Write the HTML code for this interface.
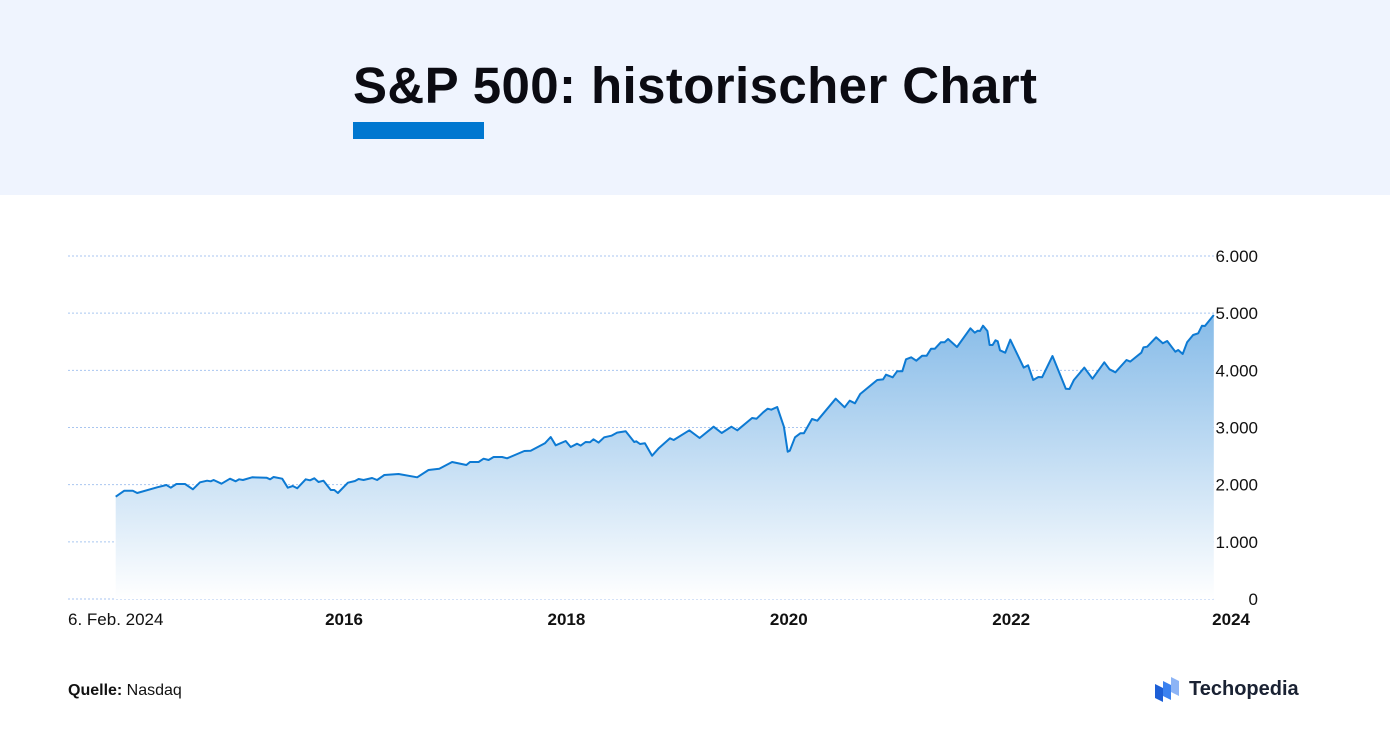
<!DOCTYPE html>
<html><head><meta charset="utf-8">
<style>
body{margin:0;width:1390px;height:730px;background:#fff;font-family:"Liberation Sans",sans-serif;overflow:hidden;position:relative}
#hdr{position:absolute;left:0;top:0;width:1390px;height:195px;background:#eff4fe}
#title{position:absolute;left:353px;top:56px;font-size:51px;font-weight:bold;color:#0b0b12;white-space:nowrap;letter-spacing:0.4px}
#bar{position:absolute;left:353px;top:122px;width:131px;height:17px;background:#0077d0}
#src{position:absolute;left:68px;top:682px;font-size:16px;color:#111}
#logo{position:absolute;left:1155px;top:676px;display:flex;align-items:center;font-size:20px;font-weight:bold;color:#1a2233}
</style></head><body>
<div id="hdr"></div>
<div id="title">S&amp;P 500: historischer Chart</div>
<div id="bar"></div>
<svg id="chart" width="1390" height="730" style="position:absolute;left:0;top:0">
<defs><linearGradient id="fillg" x1="0" y1="0" x2="0" y2="1">
<stop offset="0" stop-color="#86bbe8"/><stop offset="1" stop-color="#ffffff"/></linearGradient></defs>
<g id="grid"></g><g id="series"></g><g id="labels"></g>
</svg>
<div id="src"><b>Quelle:</b> Nasdaq</div>
<div id="logo">
<svg width="26" height="26" viewBox="0 0 26 26" style="margin-right:8px"><polygon points="0,8 8,12 8,26 0,22" fill="#1d5fd6"/><polygon points="8,5 16,9 16,24 8,20" fill="#3b82f0"/><polygon points="16,1 24,5 24,20 16,16" fill="#8db4f5"/></svg>Techopedia</div>
<script>
const years=[2013.947,2014.024,2014.101,2014.140,2014.320,2014.403,2014.442,2014.493,2014.570,2014.641,2014.705,2014.769,2014.801,2014.827,2014.898,2014.975,2015.026,2015.058,2015.091,2015.174,2015.303,2015.335,2015.367,2015.444,2015.495,2015.540,2015.579,2015.656,2015.694,2015.733,2015.771,2015.816,2015.881,2015.913,2015.945,2016.035,2016.099,2016.131,2016.176,2016.253,2016.298,2016.362,2016.491,2016.658,2016.760,2016.857,2016.972,2017.101,2017.133,2017.210,2017.255,2017.300,2017.345,2017.422,2017.467,2017.621,2017.679,2017.807,2017.859,2017.904,2017.994,2018.039,2018.096,2018.129,2018.173,2018.212,2018.244,2018.289,2018.340,2018.405,2018.456,2018.533,2018.610,2018.629,2018.662,2018.706,2018.771,2018.832,2018.932,2018.965,2019.105,2019.198,2019.324,2019.397,2019.484,2019.537,2019.670,2019.710,2019.770,2019.810,2019.843,2019.896,2019.956,2019.990,2020.009,2020.056,2020.103,2020.136,2020.209,2020.256,2020.422,2020.502,2020.548,2020.595,2020.642,2020.795,2020.848,2020.874,2020.934,2020.974,2021.021,2021.054,2021.101,2021.147,2021.200,2021.240,2021.280,2021.314,2021.367,2021.400,2021.433,2021.513,2021.633,2021.673,2021.699,2021.719,2021.746,2021.786,2021.806,2021.833,2021.859,2021.879,2021.899,2021.946,2021.992,2022.112,2022.152,2022.198,2022.245,2022.278,2022.371,2022.491,2022.524,2022.564,2022.657,2022.731,2022.837,2022.884,2022.937,2023.037,2023.070,2023.170,2023.190,2023.223,2023.303,2023.363,2023.403,2023.476,2023.502,2023.542,2023.582,2023.636,2023.682,2023.716,2023.742,2023.822];
const values=[1790,1895,1895,1854,1954,1994,1947,2011,2011,1919,2041,2069,2059,2082,2017,2104,2059,2093,2082,2128,2122,2093,2134,2104,1947,1976,1936,2093,2076,2111,2046,2069,1907,1907,1854,2035,2064,2099,2082,2117,2082,2169,2186,2128,2256,2279,2396,2344,2396,2396,2454,2431,2484,2484,2461,2589,2594,2723,2834,2688,2764,2659,2717,2683,2746,2741,2793,2735,2828,2857,2910,2933,2746,2758,2711,2723,2507,2640,2811,2781,2951,2816,3014,2904,3014,2951,3166,3154,3265,3329,3311,3358,3014,2577,2594,2828,2898,2898,3149,3119,3504,3353,3469,3423,3586,3831,3842,3924,3878,3983,3983,4193,4228,4169,4256,4256,4378,4378,4490,4490,4548,4408,4735,4658,4693,4688,4781,4688,4443,4443,4525,4507,4350,4309,4536,4047,4088,3831,3883,3878,4251,3679,3673,3831,4047,3854,4140,4018,3965,4181,4152,4309,4403,4414,4578,4473,4513,4326,4356,4286,4490,4618,4647,4781,4775,4968];
const yTicks=[0,1000,2000,3000,4000,5000,6000];
const yTickLabels=["0","1.000","2.000","3.000","4.000","5.000","6.000"];
const xTicks=[2016,2018,2020,2022];
const xTickLabels=["2016","2018","2020","2022"];
const NS="http://www.w3.org/2000/svg";
const X=yr=>344+(yr-2016)*111.2;
const Y=v=>599-v*0.05717;
function mk(tag,attrs,parent){const e=document.createElementNS(NS,tag);for(const k in attrs)e.setAttribute(k,attrs[k]);document.getElementById(parent).appendChild(e);return e;}
yTicks.forEach((t,i)=>{
 const l=mk('line',{x1:68,x2:1216,y1:Y(t),y2:Y(t),stroke:'#a9c6f0','stroke-width':1,'stroke-dasharray':'2,2'},'grid');
 
 
 const tx=mk('text',{x:1258,y:Y(t)+6,'text-anchor':'end','font-size':17,fill:'#111','font-family':'Liberation Sans'},'labels');
 tx.textContent=yTickLabels[i];
 
 
});
xTicks.forEach((t,i)=>{
 const tx=mk('text',{x:X(t),y:625,'text-anchor':'middle','font-size':17,'font-weight':'bold',fill:'#111','font-family':'Liberation Sans'},'labels');
 tx.textContent=xTickLabels[i];
 
 
});
const a=mk('text',{x:68,y:625,'font-size':17,fill:'#111','font-family':'Liberation Sans'},'labels');
a.textContent="6. Feb. 2024";


const b=mk('text',{x:1250,y:625,'text-anchor':'end','font-size':17,'font-weight':'bold',fill:'#111','font-family':'Liberation Sans'},'labels');
b.textContent="2024";


let d=years.map((yr,i)=>(i?'L':'M')+X(yr).toFixed(1)+','+Y(values[i]).toFixed(1)).join('');
const area=mk('path',{d:d+'L'+X(years[years.length-1]).toFixed(1)+','+Y(0)+'L'+X(years[0]).toFixed(1)+','+Y(0)+'Z',fill:'url(#fillg)'},'series');


const line=mk('path',{d:d,fill:'none',stroke:'#0d7ad3','stroke-width':2,'stroke-linejoin':'round'},'series');


</script>
</body></html>
